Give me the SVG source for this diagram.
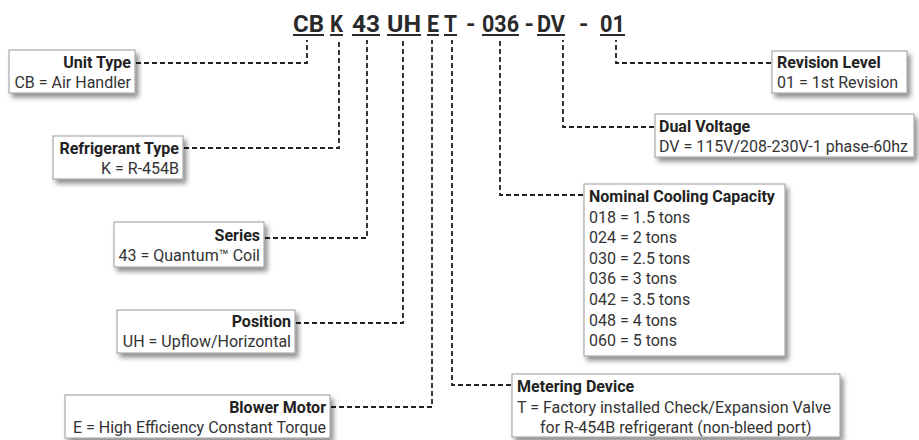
<svg xmlns="http://www.w3.org/2000/svg" width="919" height="440" viewBox="0 0 919 440">
<defs>
<filter id="sh" x="-10%" y="-20%" width="130%" height="150%">
<feDropShadow dx="3" dy="4" stdDeviation="2.5" flood-color="#000" flood-opacity="0.45"/>
</filter>
<style>
text{font-family:Roboto,"Liberation Sans",sans-serif;}
.box{fill:#fff;stroke:#9a9a9a;stroke-width:1;filter:url(#sh);}
.h{font-size:16px;font-weight:bold;fill:#222;}
.b{font-size:16px;fill:#333;}
.r{text-anchor:end;}
.t{font-size:24px;font-weight:bold;fill:#2a2a2a;}
.ul{fill:#2a2a2a;}
.c{fill:none;stroke:#222;stroke-width:1.8;stroke-dasharray:5 3;}
</style>
</defs>
<rect width="919" height="440" fill="#fff"/>

<g id="title">
<text class="t" x="293" y="32" textLength="31" lengthAdjust="spacingAndGlyphs">CB</text><rect class="ul" x="293" y="34" width="31" height="2"/>
<text class="t" x="330" y="32" textLength="13" lengthAdjust="spacingAndGlyphs">K</text><rect class="ul" x="330" y="34" width="13" height="2"/>
<text class="t" x="352" y="32" textLength="28" lengthAdjust="spacingAndGlyphs">43</text><rect class="ul" x="352" y="34" width="28" height="2"/>
<text class="t" x="387" y="32" textLength="34" lengthAdjust="spacingAndGlyphs">UH</text><rect class="ul" x="387" y="34" width="34" height="2"/>
<text class="t" x="427" y="32" textLength="12" lengthAdjust="spacingAndGlyphs">E</text><rect class="ul" x="427" y="34" width="12" height="2"/>
<text class="t" x="444" y="32" textLength="13" lengthAdjust="spacingAndGlyphs">T</text><rect class="ul" x="444" y="34" width="13" height="2"/>
<text class="t" x="466" y="32">-</text>
<text class="t" x="482" y="32" textLength="37" lengthAdjust="spacingAndGlyphs">036</text><rect class="ul" x="482" y="34" width="37" height="2"/>
<text class="t" x="524.5" y="32">-</text>
<text class="t" x="537" y="32" textLength="28" lengthAdjust="spacingAndGlyphs">DV</text><rect class="ul" x="537" y="34" width="28" height="2"/>
<text class="t" x="579" y="32">-</text>
<text class="t" x="600" y="32" textLength="25" lengthAdjust="spacingAndGlyphs">01</text><rect class="ul" x="600" y="34" width="25" height="2"/>
</g>

<g id="connectors">
<path class="c" d="M136,63 H307 V40"/>
<path class="c" d="M184,148 H339 V40"/>
<path class="c" d="M265,238 H367 V40"/>
<path class="c" d="M296,323 H403 V40"/>
<path class="c" d="M331,407 H432 V40"/>
<path class="c" d="M511,385 H452 V40"/>
<path class="c" d="M583,195 H500 V40"/>
<path class="c" d="M654,127 H563 V40"/>
<path class="c" d="M771,63 H616 V40"/>
</g>

<g id="unit-type">
<rect class="box" x="9" y="50" width="126" height="43"/>
<text class="h r" x="131" y="68">Unit Type</text>
<text class="b r" x="131" y="88">CB = Air Handler</text>
</g>

<g id="refrigerant-type">
<rect class="box" x="53" y="136" width="130" height="43"/>
<text class="h r" x="179" y="154">Refrigerant Type</text>
<text class="b r" x="179" y="174">K = R-454B</text>
</g>

<g id="series">
<rect class="box" x="114" y="222" width="150" height="45"/>
<text class="h r" x="260" y="241">Series</text>
<text class="b r" x="260" y="261">43 = Quantum™ Coil</text>
</g>

<g id="position">
<rect class="box" x="117" y="310" width="178" height="43"/>
<text class="h r" x="291" y="327">Position</text>
<text class="b r" x="291" y="347">UH = Upflow/Horizontal</text>
</g>

<g id="blower-motor">
<rect class="box" x="65" y="395" width="265" height="43"/>
<text class="h r" x="326" y="413">Blower Motor</text>
<text class="b r" x="326" y="433">E = High Efficiency Constant Torque</text>
</g>

<g id="metering-device">
<rect class="box" x="512" y="374" width="328" height="63"/>
<text class="h" x="517" y="392">Metering Device</text>
<text class="b" x="517" y="413">T = Factory installed Check/Expansion Valve</text>
<text class="b" x="540" y="433">for R-454B refrigerant (non-bleed port)</text>
</g>

<g id="nominal-cooling-capacity">
<rect class="box" x="584" y="184" width="201" height="172"/>
<text class="h" x="589" y="202">Nominal Cooling Capacity</text>
<text class="b" x="589" y="222.6">018 = 1.5 tons</text>
<text class="b" x="589" y="243.2">024 = 2 tons</text>
<text class="b" x="589" y="263.8">030 = 2.5 tons</text>
<text class="b" x="589" y="284.4">036 = 3 tons</text>
<text class="b" x="589" y="305">042 = 3.5 tons</text>
<text class="b" x="589" y="325.6">048 = 4 tons</text>
<text class="b" x="589" y="346.2">060 = 5 tons</text>
</g>

<g id="dual-voltage">
<rect class="box" x="655" y="114" width="259" height="43"/>
<text class="h" x="659" y="132">Dual Voltage</text>
<text class="b" x="659" y="152">DV = 115V/208-230V-1 phase-60hz</text>
</g>

<g id="revision-level">
<rect class="box" x="772" y="51" width="135" height="42"/>
<text class="h" x="777" y="68">Revision Level</text>
<text class="b" x="777" y="88">01 = 1st Revision</text>
</g>
</svg>
